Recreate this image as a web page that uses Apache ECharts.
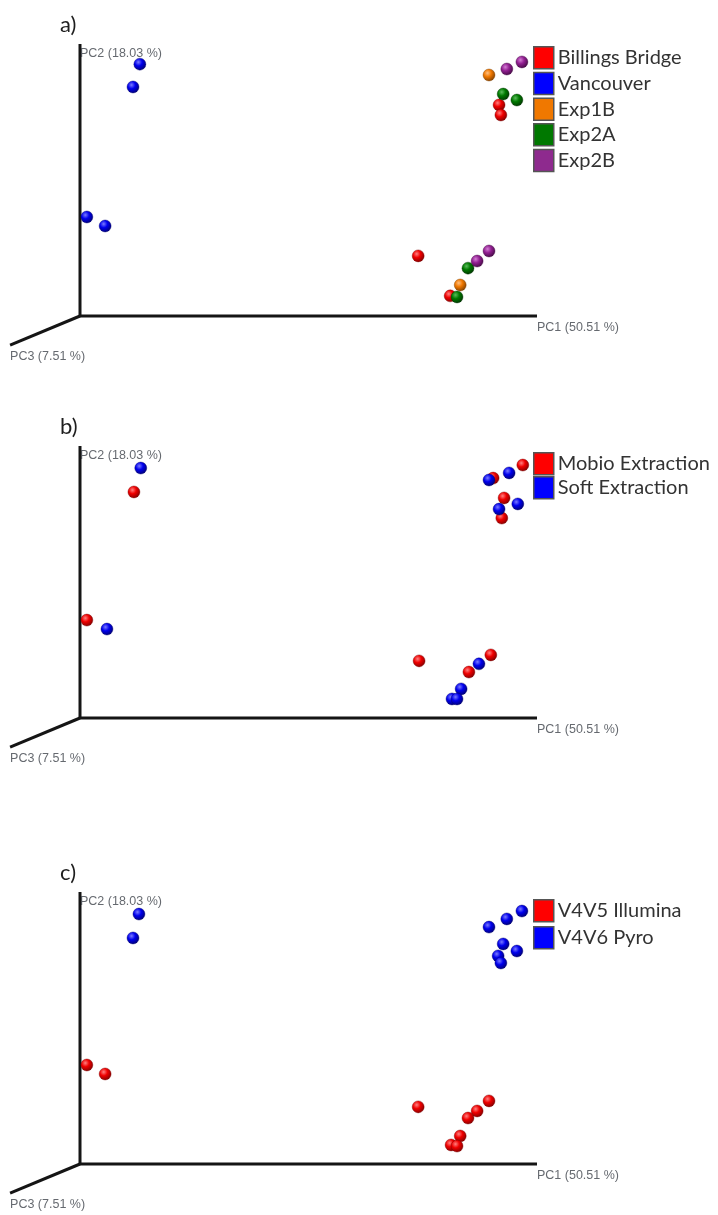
<!DOCTYPE html>
<html>
<head>
<meta charset="utf-8">
<script src="https://cdn.jsdelivr.net/npm/echarts@6/dist/echarts.min.js"></script>
<style>
  html, body { margin: 0; padding: 0; background: #ffffff; }
  #chart { width: 718px; height: 1215px; }
</style>
</head>
<body>
<div id="chart"></div>
<script>
// PCoA ordination of the same samples, shown with three different groupings.
// Coordinates are positions in the projected PC1/PC2 plane (PC3 recedes back-left).

const panelLetters = ['a)', 'b)', 'c)'];
const pc1Title = 'PC1 (50.51 %)';
const pc2Title = 'PC2 (18.03 %)';
const pc3Title = 'PC3 (7.51 %)';

// axis frame: PC2 top -> origin -> PC1 end, and the receding PC3 axis
const axisFrame = [[0, 100], [0, 0], [100, 0]];
const pc3Axis = [[0, 0], [-15.3, -10.7]];

// ---- panel a: sampling site / experiment ----
const billingsBridge = [[91.7, 77.6], [92.1, 73.9], [74.0, 22.1], [81.0, 7.4]];
const vancouver      = [[13.1, 92.6], [11.6, 84.2], [1.5, 36.4], [5.5, 33.1]];
const exp1B          = [[89.5, 88.6], [83.2, 11.4]];
const exp2A          = [[92.6, 81.6], [95.6, 79.4], [84.9, 17.6], [82.5, 7.0]];
const exp2B          = [[96.7, 93.4], [93.4, 90.8], [89.5, 23.9], [86.9, 20.2]];

// ---- panel b: DNA extraction method ----
const mobioExtraction = [[11.8, 83.1], [1.5, 36.0], [96.9, 93.0], [90.4, 88.2], [92.8, 80.9],
                         [92.3, 73.5], [74.2, 21.0], [89.9, 23.2], [85.1, 16.9]];
const softExtraction  = [[13.3, 91.9], [5.9, 32.7], [93.9, 90.1], [89.5, 87.5], [95.8, 78.7],
                         [91.7, 76.8], [87.3, 19.9], [83.4, 10.7], [81.4, 7.0], [82.5, 7.0]];

// ---- panel c: sequencing platform ----
const v4v5Illumina = [[1.5, 36.4], [5.5, 33.1], [74.0, 21.0], [89.5, 23.2], [86.9, 19.5],
                      [84.9, 16.9], [83.2, 10.3], [81.2, 7.0], [82.5, 6.6]];
const v4v6Pyro     = [[12.9, 91.9], [11.6, 83.1], [96.7, 93.0], [93.4, 90.1], [89.5, 87.1],
                      [92.6, 80.9], [95.6, 78.3], [91.5, 76.5], [92.1, 73.9]];

// colour sets: legend swatch, sphere highlight, body, rim
const palette = {
  red:    { swatch: '#ff0000', light: '#ff8080', base: '#f00000', dark: '#7a0000' },
  blue:   { swatch: '#0000ff', light: '#7a7aff', base: '#0000ee', dark: '#00006a' },
  orange: { swatch: '#f07800', light: '#ffbf80', base: '#f07800', dark: '#7a3c00' },
  green:  { swatch: '#007800', light: '#5cbc5c', base: '#007a00', dark: '#003000' },
  purple: { swatch: '#8e2a8e', light: '#d47ed4', base: '#922092', dark: '#400840' }
};

const panels = [
  { groups: [
      { name: 'Billings Bridge', data: billingsBridge, c: 'red' },
      { name: 'Vancouver',       data: vancouver,      c: 'blue' },
      { name: 'Exp1B',           data: exp1B,          c: 'orange' },
      { name: 'Exp2A',           data: exp2A,          c: 'green' },
      { name: 'Exp2B',           data: exp2B,          c: 'purple' } ],
    gridTop: 44, legendTop: 41, legendGap: 2.2 },
  { groups: [
      { name: 'Mobio Extraction', data: mobioExtraction, c: 'red' },
      { name: 'Soft Extraction',  data: softExtraction,  c: 'blue' } ],
    gridTop: 446, legendTop: 447, legendGap: 0.6 },
  { groups: [
      { name: 'V4V5 Illumina', data: v4v5Illumina, c: 'red' },
      { name: 'V4V6 Pyro',     data: v4v6Pyro,     c: 'blue' } ],
    gridTop: 892, legendTop: 894, legendGap: 3.4 }
];

// plane scale: 4.57 px per PC1 unit, 2.72 px per PC2 unit, origin at x = 80
const X_MIN = -16, X_MAX = 100, Y_MIN = -12, Y_MAX = 100;
const PX_X = 4.57, PX_Y = 2.72, ORIGIN_X = 80;

function sphere(c) {
  const p = palette[c];
  return new echarts.graphic.RadialGradient(0.38, 0.34, 0.72, [
    { offset: 0, color: p.light },
    { offset: 0.42, color: p.base },
    { offset: 1, color: p.dark }
  ]);
}

const chart = echarts.init(document.getElementById('chart'), null, { renderer: 'canvas' });

const grid = [], xAxis = [], yAxis = [], series = [], legend = [], title = [];

panels.forEach((panel, i) => {
  grid.push({
    left: ORIGIN_X + X_MIN * PX_X,
    width: (X_MAX - X_MIN) * PX_X,
    top: panel.gridTop - (Y_MAX - 100) * PX_Y,
    height: (Y_MAX - Y_MIN) * PX_Y
  });
  xAxis.push({ gridIndex: i, type: 'value', min: X_MIN, max: X_MAX, show: false });
  yAxis.push({ gridIndex: i, type: 'value', min: Y_MIN, max: Y_MAX, show: false });

  title.push({
    text: panelLetters[i],
    left: 55,
    top: panel.gridTop - 35,
    textStyle: { fontFamily: 'Lato', fontSize: 22, fontWeight: 'normal', color: '#1e1e1e' }
  });

  const axisLine = { color: '#151515', width: 3 };
  series.push({
    type: 'line', xAxisIndex: i, yAxisIndex: i, data: axisFrame,
    symbol: 'none', silent: true, animation: false, lineStyle: axisLine, z: 1
  });
  series.push({
    type: 'line', xAxisIndex: i, yAxisIndex: i, data: pc3Axis,
    symbol: 'none', silent: true, animation: false, lineStyle: axisLine, z: 1
  });

  // axis titles anchored at the axis ends
  const titleLabel = (text, dy) => ({
    show: true, formatter: text, position: 'inside', align: 'left', verticalAlign: 'middle',
    offset: [0, dy], fontFamily: 'Liberation Sans', fontSize: 12.5, color: '#3f434b'
  });
  series.push({
    type: 'scatter', xAxisIndex: i, yAxisIndex: i, symbolSize: 0, silent: true, animation: false, z: 2,
    data: [
      { value: axisFrame[0], label: titleLabel(pc2Title, 10) },
      { value: axisFrame[2], label: titleLabel(pc1Title, 12) },
      { value: pc3Axis[1], label: titleLabel(pc3Title, 11) }
    ]
  });

  panel.groups.forEach(g => {
    series.push({
      name: g.name, type: 'scatter', xAxisIndex: i, yAxisIndex: i,
      data: g.data, symbol: 'circle', symbolSize: 12, animation: false, z: 3,
      itemStyle: { color: sphere(g.c), opacity: 1, borderColor: palette[g.c].dark, borderWidth: 0.4 }
    });
  });

  legend.push({
    orient: 'vertical', left: 528, top: panel.legendTop,
    itemWidth: 20, itemHeight: 22, itemGap: panel.legendGap,
    selectedMode: false, icon: 'rect',
    textStyle: { fontFamily: 'Lato', fontSize: 20, lineHeight: 22, color: '#333333', padding: [0, 0, 0, -1] },
    data: panel.groups.map(g => ({
      name: g.name,
      itemStyle: { color: palette[g.c].swatch, opacity: 1, borderColor: '#555555', borderWidth: 1.5 }
    }))
  });
});

chart.setOption({
  backgroundColor: '#ffffff',
  animation: false,
  title, grid, xAxis, yAxis, legend, series
});
</script>
</body>
</html>
